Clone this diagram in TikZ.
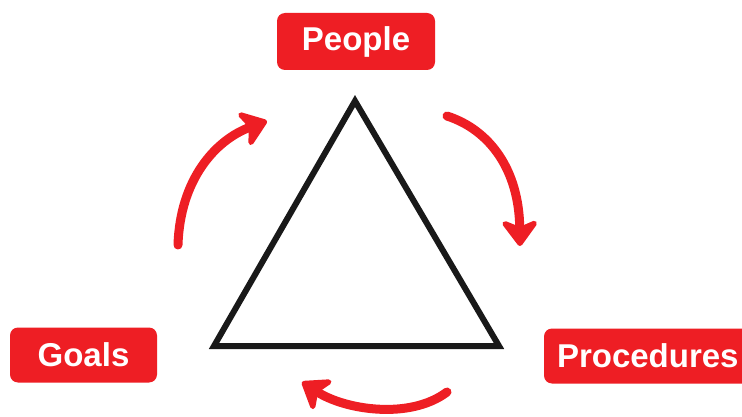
\documentclass[tikz,border=0pt]{standalone}
\usepackage{fontspec}
\setmainfont{Liberation Sans}
\usetikzlibrary{arrows.meta}
\definecolor{myred}{RGB}{238,30,36}
\definecolor{ink}{RGB}{25,25,25}
\begin{document}
\begin{tikzpicture}[x=1pt,y=-1pt,
  label box/.style={fill=myred, rounded corners=8pt, text=white, font=\fontsize{33}{36}\selectfont\bfseries, anchor=center, inner sep=0pt},
  cyc arrow/.style={draw=myred, line width=9pt, line cap=round, -{Stealth[length=30pt,width=44pt,inset=9pt,round]}}]
\useasboundingbox (0,0) rectangle (742,417);
\fill[white] (0,0) rectangle (742,417);
% label boxes
\node[label box, minimum width=158pt, minimum height=57pt] (people) at (356,41.5) {People};
\node[label box, minimum width=147pt, minimum height=55pt] (goals) at (83.5,355) {Goals};
\node[label box, minimum width=210pt, minimum height=55pt, text width=184pt, align=left] (proc) at (649,356) {Procedures};
% triangle
\coordinate (apex) at (355,101);
\coordinate (bl) at (214,346);
\coordinate (br) at (499,346);
\draw[ink, line width=6pt, line join=miter] (apex) -- (br) -- (bl) -- cycle;
% arrows
\coordinate (a1s) at (178,245);
\coordinate (a1e) at (267,121);
\draw[cyc arrow] (a1s) .. controls (180,180) and (215,140) .. (a1e);
\coordinate (a2s) at (447,116);
\coordinate (a2e) at (520,246);
\draw[cyc arrow] (a2s) .. controls (490,130) and (519,170) .. (a2e);
\coordinate (a3s) at (447,392);
\coordinate (a3e) at (302,382);
\draw[cyc arrow] (a3s) .. controls (410,420) and (345,410) .. (a3e);
\end{tikzpicture}
\end{document}
